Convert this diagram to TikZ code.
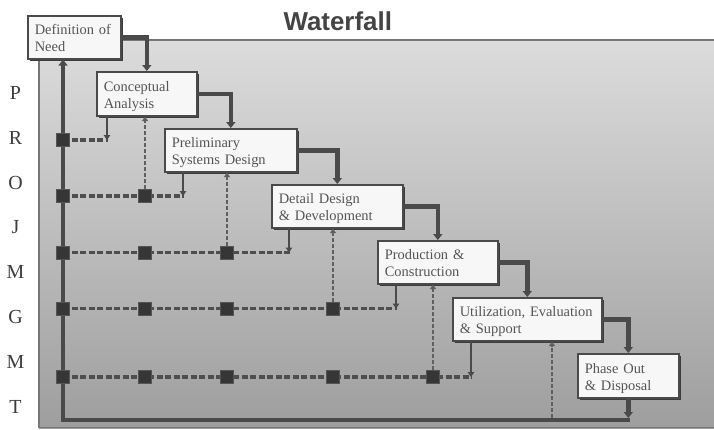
\documentclass[tikz,border=0pt]{standalone}
\usepackage{fontspec}
\setmainfont{Liberation Serif}
\newfontfamily\titlefont{Liberation Sans}
\usetikzlibrary{arrows.meta,shadows}

\definecolor{linegray}{HTML}{4A4A4A}
\definecolor{dashgray}{HTML}{4E4E4E}
\definecolor{vdashgray}{HTML}{606060}
\definecolor{sqfill}{HTML}{363636}
\definecolor{sqborder}{HTML}{555555}
\definecolor{boxfill}{HTML}{F7F7F7}
\definecolor{boxborder}{HTML}{4A4A4A}
\definecolor{boxtext}{HTML}{555555}
\definecolor{shadowgray}{HTML}{3C3C3C}
\definecolor{paneltop}{HTML}{DCDCDC}
\definecolor{panelbot}{HTML}{9E9E9E}
\definecolor{panelborder}{HTML}{777777}
\definecolor{lettergray}{HTML}{3C3C3C}
\definecolor{titlegray}{HTML}{444444}

\tikzset{
  phase/.style={draw=boxborder, line width=1.6bp, fill=boxfill, text=boxtext,
    font=\fontsize{14.5}{17}\selectfont, align=left, anchor=north west,
    inner xsep=7bp, inner ysep=0bp, text height=14bp, text depth=19bp,
    drop shadow={shadow xshift=1.8bp, shadow yshift=-1.8bp, fill=shadowgray, opacity=1}},
  flow/.style={linegray, line width=4.6bp, line join=miter,
    -{Triangle[width=9bp,length=6bp]}},
  fb/.style={linegray, line width=2.6bp, -{Triangle[width=6.5bp,length=5bp]}},
  hdash/.style={dashgray, line width=3.4bp, dash pattern=on 6bp off 2.5bp},
  vdash/.style={vdashgray, line width=2.6bp, dash pattern=on 4bp off 2bp,
    -{Triangle[width=6bp,length=4.5bp]}},
  sq/.style={draw=sqborder, fill=sqfill, line width=1bp, minimum size=13bp,
    inner sep=0bp},
  letter/.style={text=lettergray, font=\fontsize{20}{20}\selectfont, anchor=base}
}

\begin{document}
\begin{tikzpicture}[x=1bp, y=-1bp]
\useasboundingbox (0,0) rectangle (714,429);

% shaded panel
\shade[top color=paneltop, bottom color=panelbot] (39,40) rectangle (716,428);
\draw[panelborder, line width=1.6bp] (716,40) -- (39,40) -- (39,427.5) -- (716,427.5);

% title
\node[font=\titlefont\bfseries\fontsize{26}{30}\selectfont, text=titlegray,
  anchor=base west] (title) at (280,30.5) {Waterfall};

% side lettering
\foreach \c [count=\i from 0] in {P,R,O,J,M,G,M,T}{
  \node[letter] (l\i) at (15.5,{99.3+44.86*\i}) {\c};
}

% phase boxes
\node[phase, text width=79bp,  minimum height=43bp] (def) at (27,15)   {Definition of\\Need};
\node[phase, text width=86bp,  minimum height=44bp] (con) at (96,71)   {Conceptual\\Analysis};
\node[phase, text width=118bp, minimum height=43bp] (pre) at (164,128) {Preliminary\\Systems Design};
\node[phase, text width=117bp, minimum height=43bp] (det) at (271,184) {Detail Design\\\& Development};
\node[phase, text width=106bp, minimum height=43bp] (pro) at (377,240) {Production \&\\Construction};
\node[phase, text width=135bp, minimum height=43bp] (uti) at (452,297) {Utilization, Evaluation\\\& Support};
\node[phase, text width=87bp,  minimum height=44bp] (pho) at (577,353) {Phase Out\\\& Disposal};

% loop-back corners
\coordinate (bl) at (63,420);
\coordinate (br) at (629.5,420);

% feedback row ends
\coordinate (e1) at (107,140);
\coordinate (e2) at (183,196);
\coordinate (e3) at (289,252.5);
\coordinate (e4) at (396,308.5);
\coordinate (e5) at (471,377);
\coordinate (u0) at (552,418);

% dashed feedback rows
\draw[hdash] (63,140) -- ([xshift=1bp]e1);
\draw[hdash] (63,196) -- ([xshift=1bp]e2);
\draw[hdash] (63,252.5) -- ([xshift=1bp]e3);
\draw[hdash] (63,308.5) -- ([xshift=1bp]e4);
\draw[hdash] (63,377) -- ([xshift=1bp]e5);

% main loop back to the first phase
\draw[flow] (br) -- (bl) -- (def.south -| bl);
\draw[flow, shorten >=2bp] (pho.south) -- (pho.south |- bl);

% squares on the rows
\foreach \y [count=\r] in {140,196,252.5,308.5,377}{
  \node[sq] (s\r0) at (63,\y) {};
}
\node[sq] (s21) at (145,196) {};
\node[sq] (s31) at (145,252.5) {};
\node[sq] (s32) at (227,252.5) {};
\node[sq] (s41) at (145,308.5) {};
\node[sq] (s42) at (227,308.5) {};
\node[sq] (s43) at (333,308.5) {};
\node[sq] (s51) at (145,377) {};
\node[sq] (s52) at (227,377) {};
\node[sq] (s53) at (333,377) {};
\node[sq] (s54) at (433,377) {};

% dashed returns into each phase
\draw[vdash] (s21.north) -- (s21 |- con.south);
\draw[vdash] (s32.north) -- (s32 |- pre.south);
\draw[vdash] (s43.north) -- (s43 |- det.south);
\draw[vdash] (s54.north) -- (s54 |- pro.south);
\draw[vdash] (u0) -- (u0 |- uti.south);

% outputs from each phase down to its row
\draw[fb] (con.south -| e1) -- (e1);
\draw[fb] (pre.south -| e2) -- (e2);
\draw[fb] (det.south -| e3) -- (e3);
\draw[fb] (pro.south -| e4) -- (e4);
\draw[fb] (uti.south -| e5) -- (e5);

% waterfall steps
\draw[flow] (def.east) -| (con.north);
\draw[flow] (con.east) -| (pre.north);
\draw[flow] (pre.east) -| (det.north);
\draw[flow] (det.east) -| (pro.north);
\draw[flow] (pro.east) -| (uti.north);
\draw[flow] (uti.east) -| (pho.north);
\end{tikzpicture}
\end{document}
